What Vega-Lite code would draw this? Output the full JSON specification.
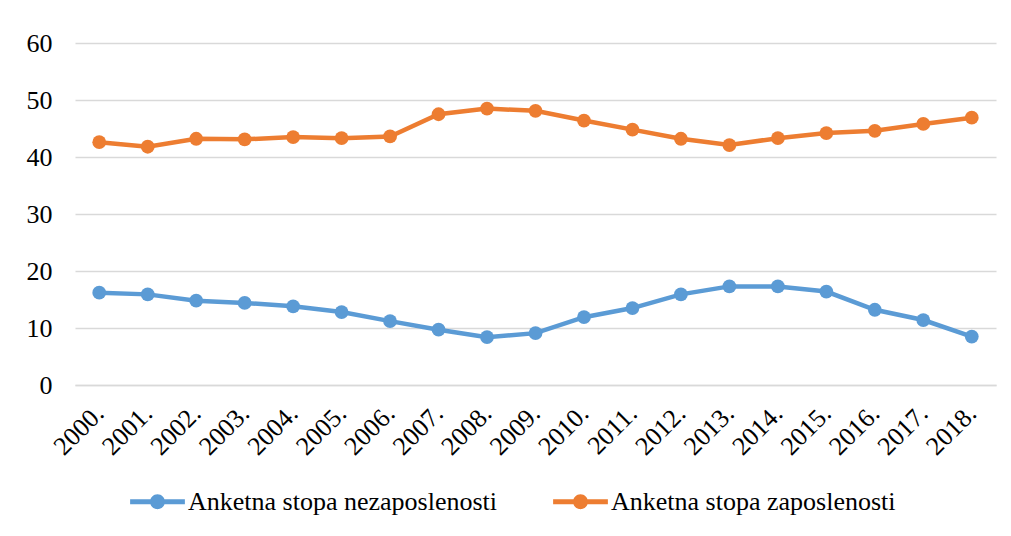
{
  "$schema": "https://vega.github.io/schema/vega-lite/v6.json",
  "autosize": "none",
  "width": 921,
  "height": 342,
  "padding": {"left": 75, "top": 43, "right": 15, "bottom": 151},
  "background": "white",
  "config": {
    "view": {"stroke": null},
    "font": "Liberation Serif"
  },
  "data": {
    "values": [
      {"godina": "2000.", "serija": "Anketna stopa nezaposlenosti", "vrijednost": 16.2},
      {"godina": "2001.", "serija": "Anketna stopa nezaposlenosti", "vrijednost": 15.9},
      {"godina": "2002.", "serija": "Anketna stopa nezaposlenosti", "vrijednost": 14.8},
      {"godina": "2003.", "serija": "Anketna stopa nezaposlenosti", "vrijednost": 14.4},
      {"godina": "2004.", "serija": "Anketna stopa nezaposlenosti", "vrijednost": 13.8},
      {"godina": "2005.", "serija": "Anketna stopa nezaposlenosti", "vrijednost": 12.8},
      {"godina": "2006.", "serija": "Anketna stopa nezaposlenosti", "vrijednost": 11.2},
      {"godina": "2007.", "serija": "Anketna stopa nezaposlenosti", "vrijednost": 9.7},
      {"godina": "2008.", "serija": "Anketna stopa nezaposlenosti", "vrijednost": 8.4},
      {"godina": "2009.", "serija": "Anketna stopa nezaposlenosti", "vrijednost": 9.1},
      {"godina": "2010.", "serija": "Anketna stopa nezaposlenosti", "vrijednost": 11.9},
      {"godina": "2011.", "serija": "Anketna stopa nezaposlenosti", "vrijednost": 13.5},
      {"godina": "2012.", "serija": "Anketna stopa nezaposlenosti", "vrijednost": 15.9},
      {"godina": "2013.", "serija": "Anketna stopa nezaposlenosti", "vrijednost": 17.3},
      {"godina": "2014.", "serija": "Anketna stopa nezaposlenosti", "vrijednost": 17.3},
      {"godina": "2015.", "serija": "Anketna stopa nezaposlenosti", "vrijednost": 16.4},
      {"godina": "2016.", "serija": "Anketna stopa nezaposlenosti", "vrijednost": 13.2},
      {"godina": "2017.", "serija": "Anketna stopa nezaposlenosti", "vrijednost": 11.4},
      {"godina": "2018.", "serija": "Anketna stopa nezaposlenosti", "vrijednost": 8.5},
      {"godina": "2000.", "serija": "Anketna stopa zaposlenosti", "vrijednost": 42.6},
      {"godina": "2001.", "serija": "Anketna stopa zaposlenosti", "vrijednost": 41.8},
      {"godina": "2002.", "serija": "Anketna stopa zaposlenosti", "vrijednost": 43.2},
      {"godina": "2003.", "serija": "Anketna stopa zaposlenosti", "vrijednost": 43.1},
      {"godina": "2004.", "serija": "Anketna stopa zaposlenosti", "vrijednost": 43.5},
      {"godina": "2005.", "serija": "Anketna stopa zaposlenosti", "vrijednost": 43.3},
      {"godina": "2006.", "serija": "Anketna stopa zaposlenosti", "vrijednost": 43.6},
      {"godina": "2007.", "serija": "Anketna stopa zaposlenosti", "vrijednost": 47.5},
      {"godina": "2008.", "serija": "Anketna stopa zaposlenosti", "vrijednost": 48.5},
      {"godina": "2009.", "serija": "Anketna stopa zaposlenosti", "vrijednost": 48.1},
      {"godina": "2010.", "serija": "Anketna stopa zaposlenosti", "vrijednost": 46.4},
      {"godina": "2011.", "serija": "Anketna stopa zaposlenosti", "vrijednost": 44.8},
      {"godina": "2012.", "serija": "Anketna stopa zaposlenosti", "vrijednost": 43.2},
      {"godina": "2013.", "serija": "Anketna stopa zaposlenosti", "vrijednost": 42.1},
      {"godina": "2014.", "serija": "Anketna stopa zaposlenosti", "vrijednost": 43.3},
      {"godina": "2015.", "serija": "Anketna stopa zaposlenosti", "vrijednost": 44.2},
      {"godina": "2016.", "serija": "Anketna stopa zaposlenosti", "vrijednost": 44.6},
      {"godina": "2017.", "serija": "Anketna stopa zaposlenosti", "vrijednost": 45.8},
      {"godina": "2018.", "serija": "Anketna stopa zaposlenosti", "vrijednost": 46.9}
    ]
  },
  "encoding": {
    "x": {
      "field": "godina",
      "type": "ordinal",
      "sort": null,
      "scale": {"type": "point", "padding": 0.5},
      "axis": {
        "title": null,
        "labelAngle": -45,
        "labelAlign": "right",
        "labelBaseline": "middle",
        "labelFont": "Liberation Serif",
        "labelFontSize": 26,
        "labelColor": "#000000",
        "labelPadding": 24,
        "labelOverlap": false,
        "ticks": false,
        "domain": true,
        "domainColor": "#d9d9d9",
        "domainWidth": 1.5,
        "grid": false
      }
    },
    "y": {
      "field": "vrijednost",
      "type": "quantitative",
      "scale": {"domain": [0, 60], "nice": false},
      "axis": {
        "title": null,
        "values": [0, 10, 20, 30, 40, 50, 60],
        "labelFont": "Liberation Serif",
        "labelFontSize": 26,
        "labelColor": "#000000",
        "labelPadding": 23,
        "ticks": false,
        "domain": false,
        "grid": true,
        "gridColor": "#d9d9d9",
        "gridWidth": 1.5
      }
    },
    "color": {
      "field": "serija",
      "type": "nominal",
      "scale": {
        "domain": ["Anketna stopa nezaposlenosti", "Anketna stopa zaposlenosti"],
        "range": ["#5B9BD5", "#ED7D31"]
      },
      "legend": {
        "title": null,
        "orient": "none",
        "legendX": 55,
        "legendY": 431,
        "direction": "horizontal",
        "labelFont": "Liberation Serif",
        "labelFontSize": 26,
        "labelColor": "#000000",
        "labelLimit": 500,
        "labelOffset": 3,
        "columnPadding": 55,
        "symbolType": "M-1,-0.09 H1 V0.09 H-1 Z M-0.27,0 A0.27,0.27 0 1,1 0.27,0 A0.27,0.27 0 1,1 -0.27,0 Z",
        "symbolSize": 3000,
        "symbolStrokeWidth": 0,
        "symbolOpacity": 1
      }
    }
  },
  "layer": [
    {"mark": {"type": "line", "strokeWidth": 4.5}},
    {"mark": {"type": "point", "filled": true, "size": 190, "opacity": 1}}
  ]
}
